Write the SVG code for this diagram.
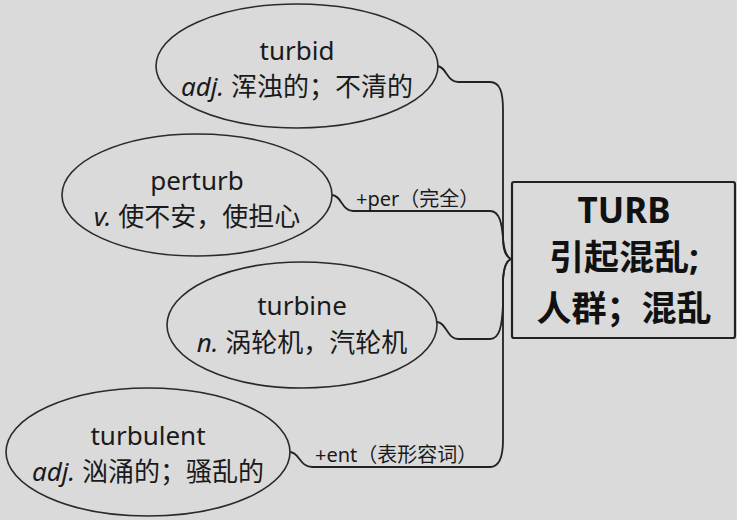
<svg xmlns="http://www.w3.org/2000/svg" width="737" height="520" viewBox="0 0 737 520">
<style>
.bg{fill:#dadada}
.node ellipse{fill:none;stroke:#2a2a2a;stroke-width:1.6}
.w{font-family:"Noto Sans","Noto Sans CJK SC",sans-serif;font-size:26px;fill:#1a1a1a;text-anchor:middle}
.w tspan.i{font-style:italic}
.lbl{font-family:"Noto Sans","Noto Sans CJK SC",sans-serif;font-size:20px;fill:#1a1a1a}
.conn path{fill:none;stroke:#222;stroke-width:1.8}
.root rect{fill:none;stroke:#222;stroke-width:2.2}
.root text{font-family:"Noto Sans","Noto Sans CJK SC",sans-serif;font-size:35px;font-weight:bold;fill:#111;text-anchor:middle}
</style>
<rect class="bg" x="0" y="0" width="737" height="520"/>
<g id="connectors" class="conn">
<path d="M437,66 C446,66 447,82 458,82 L490,82 C500,82 503,92 503,110 L503,238 C503,252 506,257 511,259"/>
<path d="M332,195 C341,195 342,211 353,211 L490,211 C500,211 502,225 503,238 C504,252 507,257 511,259"/>
<path d="M437,322 C446,322 447,339 458,339 L490,339 C500,339 502,325 503,305 L503,280 C504,265 507,261 511,259"/>
<path d="M290,452 C299,452 300,467 312,467 L490,467 C500,467 503,455 503,440 L503,280 C504,265 507,261 511,259"/>
<text class="lbl" x="356" y="206">+per（完全）</text>
<text class="lbl" x="315" y="462">+ent（表形容词）</text>
</g>
<g id="turbid" class="node">
<ellipse cx="297" cy="66" rx="141" ry="62"/>
<text class="w" x="297" y="60">turbid</text>
<text class="w" x="297" y="96"><tspan class="i">adj.</tspan> 浑浊的；不清的</text>
</g>
<g id="perturb" class="node">
<ellipse cx="197" cy="195" rx="135" ry="61"/>
<text class="w" x="197" y="190">perturb</text>
<text class="w" x="197" y="226"><tspan class="i">v.</tspan> 使不安，使担心</text>
</g>
<g id="turbine" class="node">
<ellipse cx="302" cy="325" rx="135" ry="63"/>
<text class="w" x="302" y="315">turbine</text>
<text class="w" x="302" y="352"><tspan class="i">n.</tspan> 涡轮机，汽轮机</text>
</g>
<g id="turbulent" class="node">
<ellipse cx="148" cy="452" rx="142" ry="64"/>
<text class="w" x="148" y="445">turbulent</text>
<text class="w" x="148" y="481"><tspan class="i">adj.</tspan> 汹涌的；骚乱的</text>
</g>
<g id="TURB" class="root">
<rect x="512" y="182" width="223" height="156" rx="2"/>
<text x="624" y="223">TURB</text>
<text x="624" y="270">引起混乱;</text>
<text x="624" y="321">人群；混乱</text>
</g>
</svg>
